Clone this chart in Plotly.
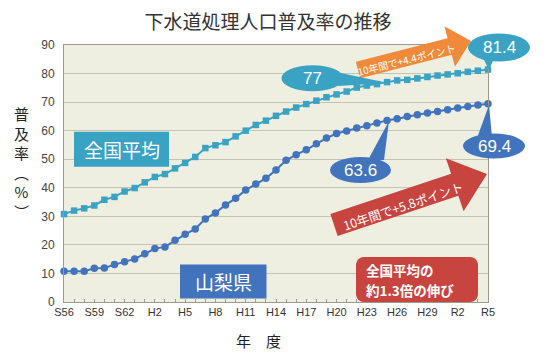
import math
import plotly.graph_objects as go

# ---------------- data ----------------
fiscal_years = ["S56", "S57", "S58", "S59", "S60", "S61", "S62", "S63", "H1", "H2",
                "H3", "H4", "H5", "H6", "H7", "H8", "H9", "H10", "H11", "H12",
                "H13", "H14", "H15", "H16", "H17", "H18", "H19", "H20", "H21", "H22",
                "H23", "H24", "H25", "H26", "H27", "H28", "H29", "H30", "R1", "R2",
                "R3", "R4", "R5"]
tick_labels = ["S56", "S59", "S62", "H2", "H5", "H8", "H11", "H14", "H17", "H20",
               "H23", "H26", "H29", "R2", "R5"]
national = [30.8, 32.0, 32.8, 33.8, 35.8, 36.8, 38.7, 39.9, 41.9, 43.8,
            44.8, 46.8, 48.7, 50.8, 53.9, 54.9, 56.0, 58.0, 60.0, 62.0,
            63.5, 65.2, 66.7, 68.1, 69.3, 70.5, 71.7, 72.7, 73.7, 75.1,
            75.8, 76.3, 77.0, 77.6, 77.8, 78.3, 78.8, 79.3, 79.7, 80.1,
            80.6, 81.0, 81.4]
yamanashi = [10.8, 10.8, 10.8, 11.8, 11.9, 13.1, 14.1, 15.1, 16.9, 18.7,
             19.3, 21.6, 23.7, 25.6, 29.1, 31.2, 34.0, 36.3, 39.2, 41.3,
             43.3, 46.2, 49.6, 51.6, 53.3, 55.4, 57.4, 59.0, 59.9, 60.9,
             61.7, 62.7, 63.6, 64.2, 65.0, 65.6, 66.2, 66.7, 67.3, 67.9,
             68.5, 69.0, 69.4]
y_ticks = [0, 10, 20, 30, 40, 50, 60, 70, 80, 90]

TEAL = "#3AA3C4"
BLUE = "#4274BD"
RED = "#C8443F"
ORANGE = "#F08A3A"
JP = "Noto Sans CJK JP"
NUM = "Liberation Sans"

# ---------------- layout geometry ----------------
W, H = 550, 355
L, R, T, B = 64, 62, 45, 53
PW, PH = W - L - R, H - T - B


def P(px, py):
    return ((px - L) / PW, (H - B - py) / PH)


def poly(points):
    pts = [P(*p) for p in points]
    return "M " + " L ".join(f"{x:.4f},{y:.4f}" for x, y in pts) + " Z"


def arrow_pts(sx, sy, tx, ty, bw, hl, hw):
    dx, dy = tx - sx, ty - sy
    ln = math.hypot(dx, dy)
    ux, uy = dx / ln, dy / ln
    nx, ny = -uy, ux
    bx, by = tx - ux * hl, ty - uy * hl
    return [(sx + nx * bw, sy + ny * bw), (bx + nx * bw, by + ny * bw),
            (bx + nx * hw, by + ny * hw), (tx, ty),
            (bx - nx * hw, by - ny * hw), (bx - nx * bw, by - ny * bw),
            (sx - nx * bw, sy - ny * bw)]


def round_rect(x0, y0, x1, y1, r):
    pts = []
    corners = [(x1 - r, y0 + r, -90, 0), (x1 - r, y1 - r, 0, 90),
               (x0 + r, y1 - r, 90, 180), (x0 + r, y0 + r, 180, 270)]
    for cx, cy, a0, a1 in corners:
        for k in range(7):
            a = math.radians(a0 + (a1 - a0) * k / 6)
            pts.append((cx + r * math.cos(a), cy + r * math.sin(a)))
    return poly(pts)


def text(px, py, s, size, color="white", family=JP, angle=0, xanchor="center", align="center"):
    x, y = P(px, py)
    return dict(x=x, y=y, xref="paper", yref="paper", text=s, showarrow=False,
                xanchor=xanchor, yanchor="middle", align=align, textangle=angle,
                font=dict(family=family, size=size, color=color))


x_idx = list(range(len(fiscal_years)))
tick_pos = [fiscal_years.index(t) for t in tick_labels]

fig = go.Figure()
fig.add_trace(go.Scatter(
    x=x_idx, y=national, mode="lines+markers", name="全国平均",
    line=dict(color=TEAL, width=2),
    marker=dict(symbol="square", size=6.5, color=TEAL),
    cliponaxis=False, hoverinfo="skip"))
fig.add_trace(go.Scatter(
    x=x_idx, y=yamanashi, mode="lines+markers", name="山梨県",
    line=dict(color=BLUE, width=2),
    marker=dict(symbol="circle", size=7.5, color=BLUE),
    cliponaxis=False, hoverinfo="skip"))

shapes = []
ann = []

# label boxes
x0, y0 = P(74, 131.7); x1, y1 = P(169, 166.7)
shapes.append(dict(type="rect", xref="paper", yref="paper", x0=x0, y0=y0, x1=x1, y1=y1,
                   fillcolor=TEAL, line=dict(width=0), layer="above"))
ann.append(text(121.5, 149.5, "全国平均", 19))

x0, y0 = P(180, 264.5); x1, y1 = P(266.5, 298.5)
shapes.append(dict(type="rect", xref="paper", yref="paper", x0=x0, y0=y0, x1=x1, y1=y1,
                   fillcolor=BLUE, line=dict(width=0), layer="above"))
ann.append(text(223.3, 281.5, "山梨県", 19))

shapes.append(dict(type="path", xref="paper", yref="paper",
                   path=round_rect(356, 257, 478, 302, 8),
                   fillcolor=RED, line=dict(width=0), layer="above"))
ann.append(text(364, 269.5, "<b>全国平均の</b>", 13.5, xanchor="left", align="left"))
ann.append(text(364, 290, "<b>約1.3倍の伸び</b>", 13.5, xanchor="left", align="left"))

# arrows
shapes.append(dict(type="path", xref="paper", yref="paper",
                   path=poly(arrow_pts(334, 225, 487, 174, 11.5, 34, 28)),
                   fillcolor=RED, line=dict(width=0), layer="above"))
ann.append(text(403, 205, "10年間で+5.8ポイント", 12.5, angle=-18.5))

shapes.append(dict(type="path", xref="paper", yref="paper",
                   path=poly(arrow_pts(358, 70, 471, 41, 8.5, 22, 21)),
                   fillcolor=ORANGE, line=dict(width=0), layer="above"))
ann.append(text(406, 59, "10年間で+4.4ポイント", 10, angle=-14))

# callouts (ellipse + tail)
callouts = [
    ("77", TEAL, (312.5, 78.3, 31, 13), [(336, 72), (338, 86), (388, 83)]),
    ("81.4", TEAL, (499, 47.5, 31, 14), [(482, 56), (495, 56), (489, 70)]),
    ("69.4", BLUE, (494, 146, 31, 12.5), [(477, 138), (492, 137), (489, 105)]),
    ("63.6", BLUE, (360.5, 170, 30.5, 13), [(368, 160), (384, 160), (389, 121)]),
]
for txt, col, (ex, ey, rx, ry), tail in callouts:
    shapes.append(dict(type="path", xref="paper", yref="paper", path=poly(tail),
                       fillcolor=col, line=dict(width=0), layer="above"))
    a0, b0 = P(ex - rx, ey + ry); a1, b1 = P(ex + rx, ey - ry)
    shapes.append(dict(type="circle", xref="paper", yref="paper", x0=a0, y0=b0, x1=a1, y1=b1,
                       fillcolor=col, line=dict(width=0), layer="above"))
    ann.append(text(ex, ey, txt, 17, family=NUM))

# axis titles
ann.append(text(21, 162, "普<br>及<br>率<br>︵<br>%<br>︶", 15, color="#222222"))
ann.append(text(258, 340, "年　度", 15, color="#222222"))

fig.update_layout(
    width=W, height=H,
    margin=dict(l=L, r=R, t=T, b=B, pad=0),
    paper_bgcolor="white", plot_bgcolor="#EEEFE1",
    showlegend=False,
    title=dict(text="下水道処理人口普及率の推移", x=268 / W, xanchor="center",
               y=1 - 22 / H, yanchor="middle",
               font=dict(family=JP, size=19, color="#333333")),
    xaxis=dict(range=[0, len(fiscal_years) - 1], tickvals=tick_pos, ticktext=tick_labels,
               showgrid=False, zeroline=False, showline=True, linecolor="#9A9A90",
               linewidth=1, mirror=True, ticks="inside", ticklen=3, tickcolor="#9A9A90",
               minor=dict(dtick=1, ticks="inside", ticklen=3, tickcolor="#9A9A90", showgrid=False),
               tickfont=dict(family=NUM, size=11, color="#333333")),
    yaxis=dict(range=[0, 90], tickvals=y_ticks, showgrid=True, gridcolor="#C4C4B4",
               gridwidth=1, zeroline=False, showline=True, linecolor="#9A9A90",
               linewidth=1, mirror=True, ticks="", ticklabelstandoff=6,
               tickfont=dict(family=NUM, size=12, color="#444444")),
    shapes=shapes, annotations=ann,
)

fig.write_html("out.html", config={"displayModeBar": False},
               post_script="document.body.style.margin='0';")
